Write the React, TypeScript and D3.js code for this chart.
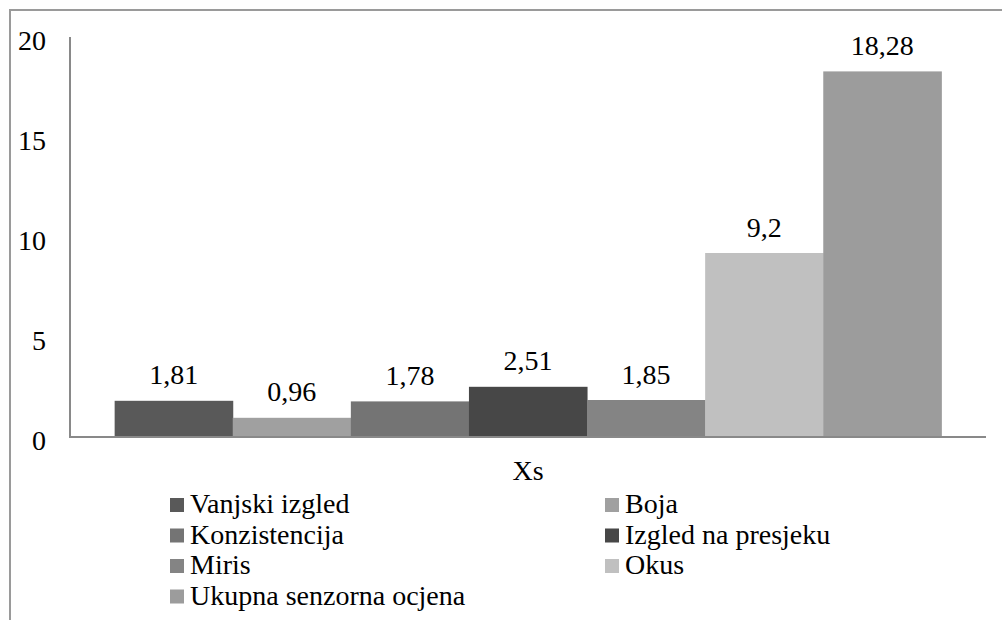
import React from "react";
import * as d3 from "d3";

const seriesNames = [
  "Vanjski izgled",
  "Boja",
  "Konzistencija",
  "Izgled na presjeku",
  "Miris",
  "Okus",
  "Ukupna senzorna ocjena",
];
const seriesValues = [1.81, 0.96, 1.78, 2.51, 1.85, 9.2, 18.28];
const seriesColors = ["#595959", "#a0a0a0", "#747474", "#474747", "#848484", "#c0c0c0", "#9c9c9c"];
const category = "Xs";
const yTicks = [0, 5, 10, 15, 20];

const width = 1002;
const height = 620;
const plot = { left: 70, right: 986, top: 37, bottom: 437 };
const fontSize = 28;

export default function App() {
  const yScale = d3.scaleLinear().domain([0, 20]).range([plot.bottom, plot.top]);

  const xCat = d3
    .scaleBand()
    .domain([category])
    .range([plot.left, plot.right])
    .paddingInner(0)
    .paddingOuter(0.054);

  const x0 = xCat(category)!;
  const xSeries = d3.scaleBand().domain(seriesNames).range([x0, x0 + xCat.bandwidth()]);

  const fmt = (d: number) => String(d).replace(".", ",");

  return (
    <svg width={width} height={height} style={{ position: "absolute", left: 0, top: 0, background: "#fff" }}>
      <style>{`
        .t { font-family: "Liberation Serif", "Times New Roman", serif; font-size: ${fontSize}px; fill: #000; }
      `}</style>
      {/* outer frame, only top and left visible */}
      <path d={`M10,${height} L10,10 L${width},10`} fill="none" stroke="#9a9a9a" strokeWidth={2} />

      {seriesValues.map((d, i) => (
        <rect
          key={seriesNames[i]}
          x={xSeries(seriesNames[i])}
          y={yScale(d)}
          width={xSeries.bandwidth() + 0.5}
          height={yScale(0) - yScale(d)}
          fill={seriesColors[i]}
        />
      ))}

      {seriesValues.map((d, i) => (
        <text
          key={"l" + i}
          className="t"
          x={xSeries(seriesNames[i])! + xSeries.bandwidth() / 2}
          y={yScale(d) - 16.5}
          textAnchor="middle"
        >
          {fmt(d)}
        </text>
      ))}

      <path
        d={`M${plot.left},${plot.top} L${plot.left},${plot.bottom} L${plot.right},${plot.bottom}`}
        fill="none"
        stroke="#898989"
        strokeWidth={2}
      />

      {yTicks.map((t) => (
        <text key={t} className="t" x={46} y={yScale(t) + 12.5} textAnchor="end">
          {t}
        </text>
      ))}

      <text className="t" x={x0 + xCat.bandwidth() / 2} y={480} textAnchor="middle">
        {category}
      </text>

      {seriesNames.map((name, i) => {
        const lx = i % 2 === 0 ? 170 : 605;
        const ly = 513 + Math.floor(i / 2) * 30.5;
        return (
          <g key={"leg" + i} transform={`translate(${lx},${ly})`}>
            <rect x={0} y={-15} width={14} height={14} fill={seriesColors[i]} />
            <text className="t" x={20} y={0}>
              {name}
            </text>
          </g>
        );
      })}
    </svg>
  );
}
